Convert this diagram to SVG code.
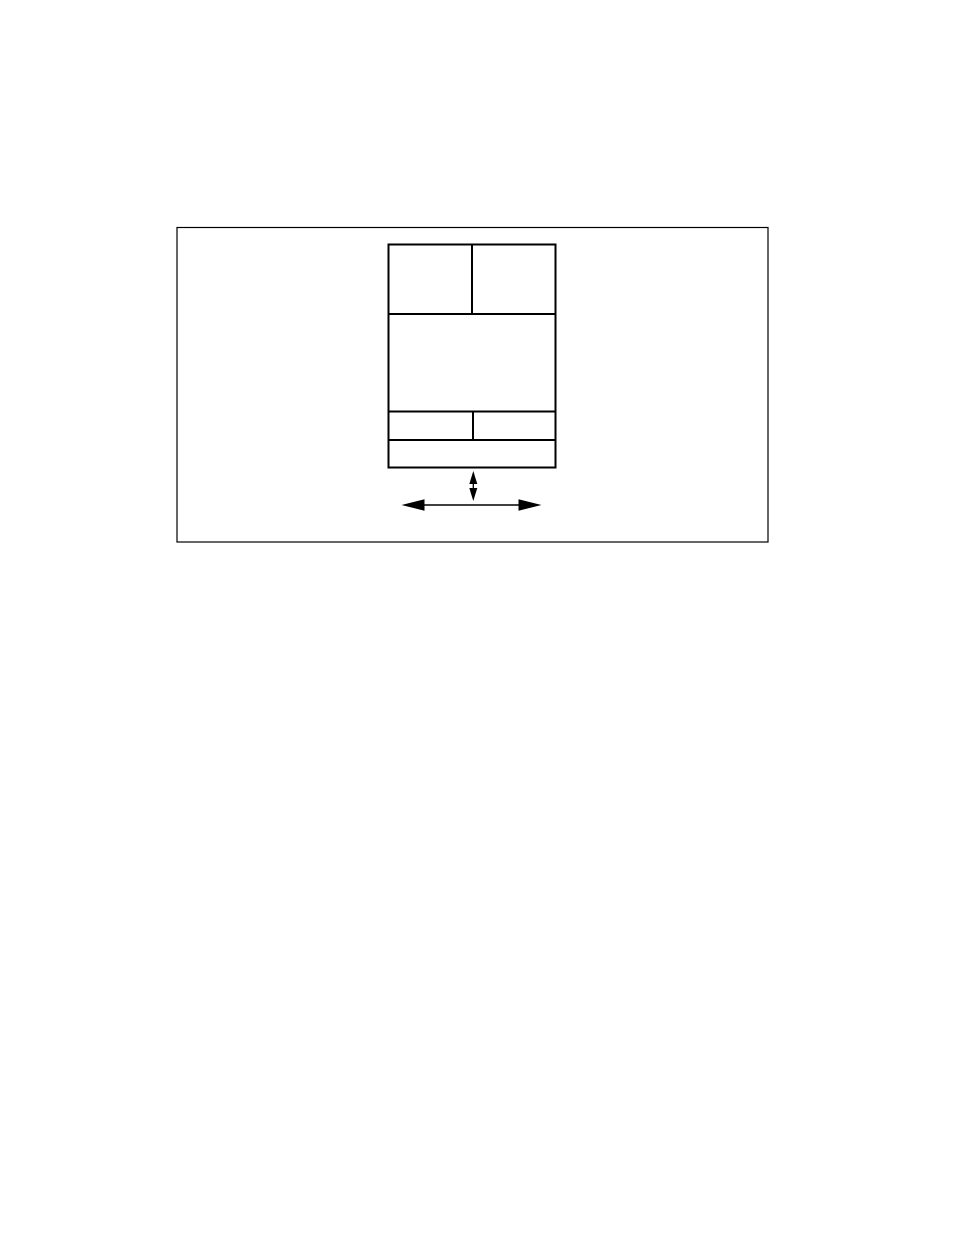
<svg xmlns="http://www.w3.org/2000/svg" width="954" height="1235" viewBox="0 0 954 1235">
<style>
.frame{fill:none;stroke:#000;stroke-width:1.2}
.box{fill:none;stroke:#000;stroke-width:2}
.conn{stroke:#000;stroke-width:1.3;fill:none}
.head{fill:#000;stroke:none}
</style>
<rect width="954" height="1235" fill="#fff"/>
<rect class="frame" x="177" y="227.5" width="591" height="314.5"/>
<g id="block">
<rect class="box" x="388.5" y="244.5" width="167" height="223"/>
<line class="box" x1="472" y1="244.5" x2="472" y2="314"/>
<line class="box" x1="388.5" y1="314" x2="555.5" y2="314"/>
<line class="box" x1="388.5" y1="411.5" x2="555.5" y2="411.5"/>
<line class="box" x1="473" y1="411.5" x2="473" y2="440"/>
<line class="box" x1="388.5" y1="440" x2="555.5" y2="440"/>
</g>
<g id="connectors">
<line class="conn" x1="473.3" y1="478" x2="473.3" y2="494"/>
<polygon class="head" points="473.3,471 477.3,484 469.3,484"/>
<polygon class="head" points="473.3,501 477.3,488 469.3,488"/>
<line class="conn" x1="420" y1="505" x2="522" y2="505"/>
<polygon class="head" points="401.5,505 424.5,499.3 424.5,510.7"/>
<polygon class="head" points="541.5,505 518.5,499.3 518.5,510.7"/>
</g>
</svg>
